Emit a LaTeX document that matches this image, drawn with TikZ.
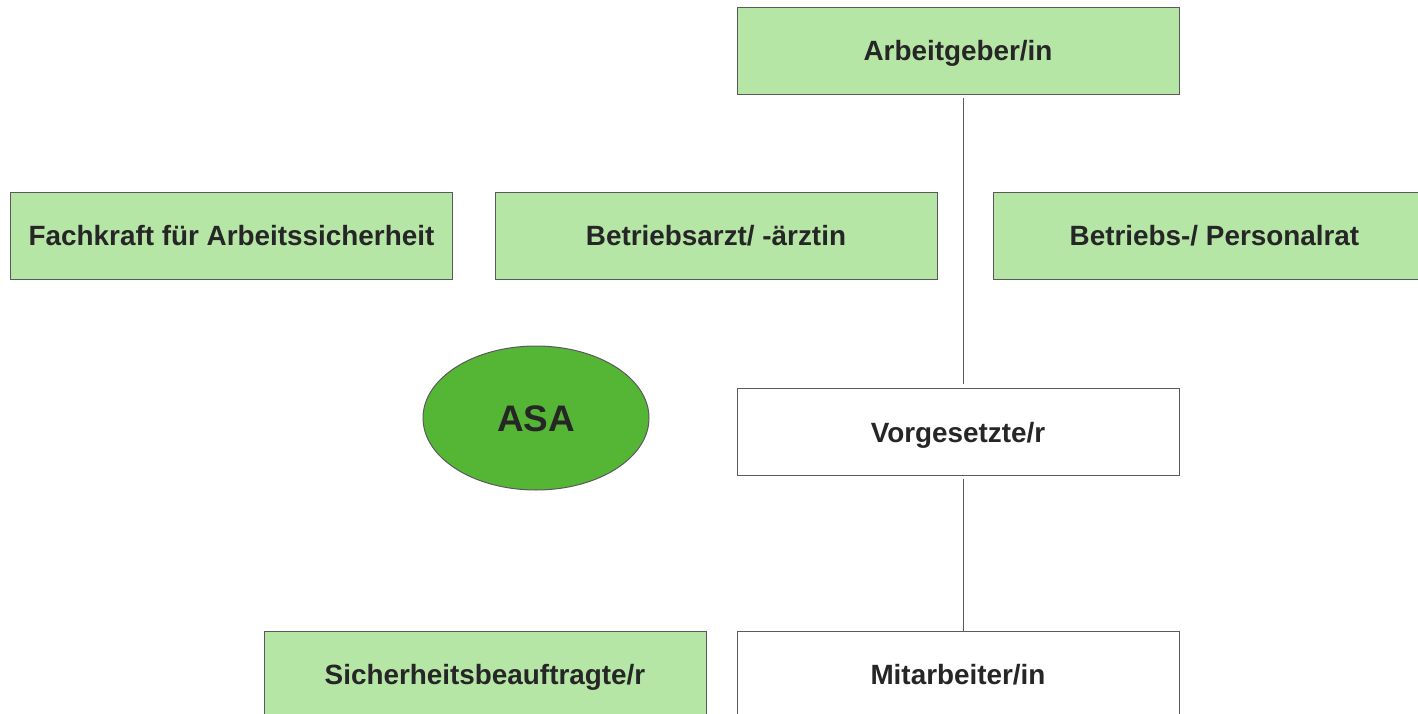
\documentclass[tikz,border=0pt]{standalone}
\usepackage{fontspec}
\setmainfont{Liberation Sans}
\usetikzlibrary{shapes.geometric,calc}
\definecolor{boxgreen}{HTML}{B5E6A6}
\definecolor{asagreen}{HTML}{55B635}
\definecolor{edgegray}{HTML}{5A5A5A}
\definecolor{txt}{HTML}{262626}
\begin{document}
\begin{tikzpicture}[x=0.75pt,y=-0.75pt,
  box/.style={draw=edgegray, line width=0.75pt, rectangle, inner sep=0pt,
    minimum width=331.5pt, minimum height=65.25pt, text=txt,
    text height=15pt, text depth=0pt,
    font=\fontsize{20.9}{25}\selectfont\bfseries},
  gbox/.style={box, fill=boxgreen},
  wbox/.style={box, fill=white},
  conn/.style={draw=edgegray, line width=0.6pt}]
\useasboundingbox (0,0) rectangle (1418,714);
\clip (0,0) rectangle (1418,714);
\node[gbox] (ag) at (958,50.5) {Arbeitgeber/in};
\node[gbox] (fk) at (231.5,235.5) {Fachkraft für Arbeitssicherheit};
\node[gbox] (ba) at (716,235.5) {Betriebsarzt/ -ärztin};
\node[gbox] (pr) at (1214.5,235.5) {Betriebs-/ Personalrat};
\node[draw=edgegray, line width=0.75pt, ellipse, fill=asagreen, inner sep=0pt,
  minimum width=169.5pt, minimum height=108pt, text=txt,
  text height=20pt, text depth=0pt,
  font=\fontsize{27.7}{33}\selectfont\bfseries] (asa) at (536,418) {ASA};
\node[wbox] (vg) at (958,432) {Vorgesetzte/r};
\node[gbox] (sb) at (485,674.5) {Sicherheitsbeauftragte/r};
\node[wbox] (ma) at (958,674.5) {Mitarbeiter/in};
\draw[conn] ($(ag.south)+(5,3)$) -- ($(vg.north)+(5,-4)$);
\draw[conn] ($(vg.south)+(5,3)$) -- ($(ma.north)+(5,0)$);
\end{tikzpicture}
\end{document}
